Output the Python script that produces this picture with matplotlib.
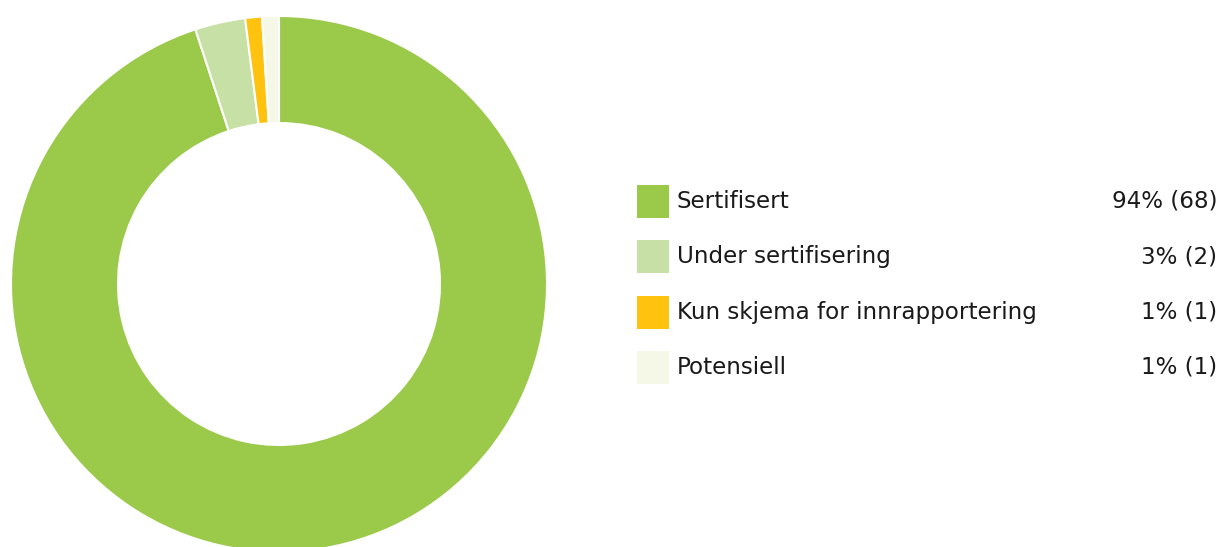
import matplotlib.pyplot as plt
from matplotlib.patches import Rectangle

# Data
labels = ['Sertifisert', 'Under sertifisering', 'Kun skjema for innrapportering', 'Potensiell']
counts = [68, 2, 1, 1]
percents = [94, 3, 1, 1]
colors = ['#9BC94A', '#C7E0A5', '#FFC20E', '#F5F8E6']

W, H = 1221, 547
fig = plt.figure(figsize=(W / 100, H / 100), dpi=100)
ax = fig.add_axes([0, 0, 1, 1])

# Donut (wedges sized by the rounded percentages, as in the source)
cx, cy = 279, H - 284
r_out, r_in = 268, 161
ax.pie(percents, colors=colors, startangle=90, counterclock=False,
       center=(cx, cy), radius=r_out, frame=True,
       wedgeprops=dict(width=r_out - r_in, edgecolor='white', linewidth=1.5))
ax.set_xlim(0, W)
ax.set_ylim(0, H)
ax.set_aspect('equal')
ax.axis('off')

# Legend
y0, step = H - 201, 55.5
for i, (lab, n, p, col) in enumerate(zip(labels, counts, percents, colors)):
    y = y0 - i * step
    ax.add_patch(Rectangle((637, y - 16.5), 32, 33, facecolor=col, edgecolor='none'))
    ax.text(677, y, lab, fontsize=16.6, va='center', ha='left', color='#1a1a1a')
    ax.text(1217, y, f'{p}% ({n})', fontsize=16.6, va='center', ha='right', color='#1a1a1a')

fig.savefig('out.png', dpi=100)
